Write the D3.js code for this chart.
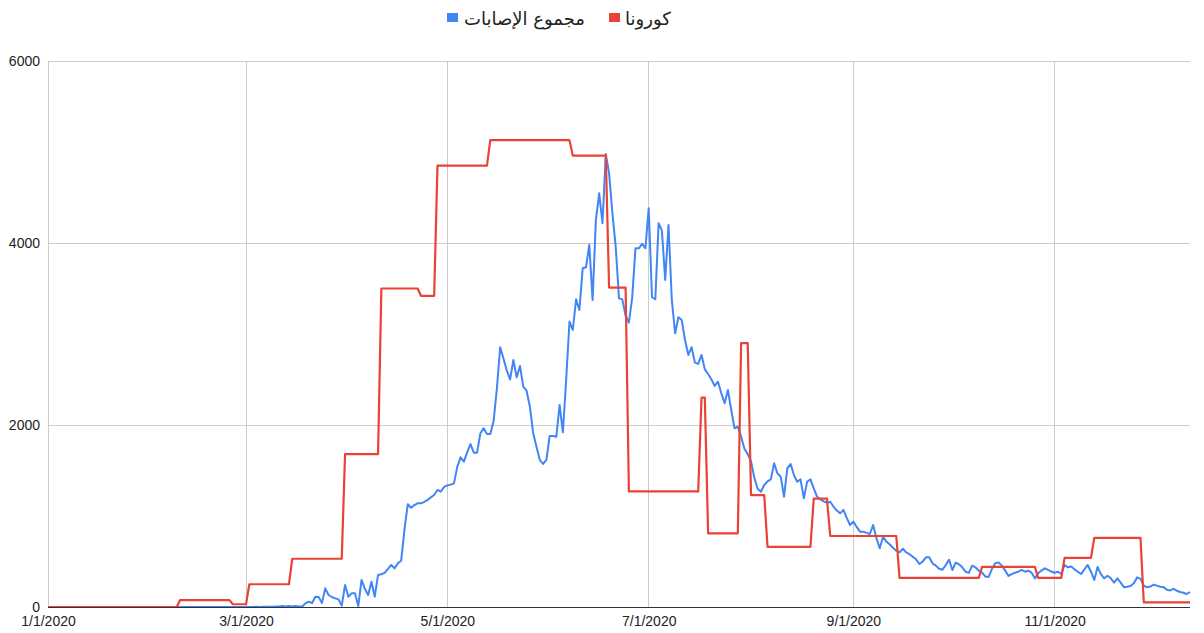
<!DOCTYPE html>
<html><head><meta charset="utf-8">
<script src="https://cdn.jsdelivr.net/npm/d3@7"></script>
<style>
html,body{margin:0;padding:0;background:#fff;}
svg{display:block;font-family:Arial,"Liberation Sans",sans-serif;}
</style></head>
<body><svg id="c" width="1204" height="633"></svg>
<script>
const seriesNames = ["مجموع الإصابات", "كورونا"];
const seriesColors = ["#4285F4", "#EA4335"];
const startDate = Date.UTC(2020, 0, 1);
const endDay = 346;
const yTicks = [0, 2000, 4000, 6000];
const xTickDays = [0, 60, 121, 182, 244, 305];
const xTickLabels = ["1/1/2020", "3/1/2020", "5/1/2020", "7/1/2020", "9/1/2020", "11/1/2020"];

// blue series: daily values from 1/1/2020
const blueValues = [
0,0,0,0,0,0,0,0,0,0, 0,0,0,0,0,0,0,0,0,0,
0,0,0,0,0,0,0,0,0,0, 0,0,0,0,0,0,0,0,0,0,
0,0,0,0,0,0,0,0,0,0, 0,0,0,0,0,0,0,0,0,0,
0,1,0,2,1,3,2,4,3,5,
5,10,5,10,5,10,5,5,40,58,
44,113,110,44,205,132,110,95,84,15,
242,113,150,150,10,297,200,132,278,113,
352,360,375,420,462,425,480,509,850,1130,
1090,1120,1139,1139,1155,1176,1205,1231,1286,1267,
1320,1335,1345,1359,1540,1645,1597,1700,1791,1696,
1696,1909,1964,1901,1900,2040,2400,2854,2730,2600,
2500,2715,2524,2649,2421,2377,2201,1909,1762,1616,
1572,1616,1879,1879,1870,2220,1920,2500,3136,3044,
3382,3264,3722,3733,3980,3374,4253,4546,4217,4978,
4766,4327,3960,3392,3380,3200,3125,3400,3942,3942,
3990,3942,4382,3404,3382,4217,4136,3594,4198,3374,
3008,3184,3154,2934,2770,2854,2685,2671,2770,2612,
2560,2500,2429,2476,2348,2239,2385,2165,1964,1982,
1870,1740,1680,1600,1420,1300,1267,1341,1380,1403,
1579,1469,1432,1212,1524,1572,1451,1377,1403,1194,
1377,1403,1304,1212,1183,1160,1146,1157,1102,1060,
1029,1066,980,901,938,880,828,828,815,802,
901,755,645,773,718,690,650,619,600,640,
600,580,553,524,473,498,546,546,480,455,
420,410,460,520,407,487,470,436,388,375,
455,436,399,377,335,330,420,480,490,455,
400,341,362,377,388,407,388,399,377,315,
370,400,425,407,388,377,388,362,462,436,
444,414,388,362,414,462,388,297,440,362,
315,344,315,267,315,267,216,222,230,260,
326,310,235,216,225,245,235,222,218,190,
182,200,179,165,157,143,165
];

// red series: [day offset from 1/1/2020, value] at each change
const redPoints = [
[0,0],[39,0],[40,75],[55,75],[56,30],[60,30],[61,250],[73,250],[74,530],[89,530],
[90,1680],[100,1680],[101,3500],[112,3500],[113,3420],[117,3420],[118,4850],[133,4850],
[134,5130],[158,5130],[159,4960],[169,4960],[170,3510],[175,3510],[176,1270],[197,1270],
[198,2300],[199,2300],[200,810],[209,810],[210,2900],[212,2900],[213,1230],[217,1230],
[218,660],[231,660],[232,1190],[236,1190],[237,780],[257,780],[258,320],[282,320],
[283,440],[299,440],[300,320],[307,320],[308,540],[316,540],[317,760],[331,760],
[332,50],[346,50]
];

const DAY = 86400000;
const toDate = d => new Date(startDate + d * DAY);

const svg = d3.select("#c");
const L = 48, R = 1190, T = 61, B = 607;
const x = d3.scaleUtc().domain([toDate(0), toDate(endDay)]).range([L, R]);
const y = d3.scaleLinear().domain([0, 6000]).range([B, T]);

// horizontal gridlines
svg.append("g").selectAll("line").data(yTicks.filter(v => v > 0)).join("line")
  .attr("x1", L).attr("x2", R).attr("y1", d => y(d)).attr("y2", d => y(d))
  .attr("stroke", "#cccccc").attr("stroke-width", 1).attr("shape-rendering", "crispEdges");
// vertical gridlines
svg.append("g").selectAll("line").data(xTickDays).join("line")
  .attr("x1", d => x(toDate(d))).attr("x2", d => x(toDate(d))).attr("y1", T).attr("y2", B)
  .attr("stroke", "#cccccc").attr("stroke-width", 1).attr("shape-rendering", "crispEdges");

// y labels
const yAxis = d3.axisLeft(y).tickValues(yTicks).tickSize(0).tickPadding(8).tickFormat(d3.format("d"));
const gy = svg.append("g").attr("transform", `translate(${L},0)`).call(yAxis);
gy.select(".domain").remove();
gy.selectAll("text").attr("font-size", 14).attr("fill", "#222").attr("font-family", "Arial, 'Liberation Sans', sans-serif");

// x labels
const xAxis = d3.axisBottom(x).tickValues(xTickDays.map(toDate)).tickSize(0).tickPadding(9)
  .tickFormat((d, i) => xTickLabels[i]);
const gx = svg.append("g").attr("transform", `translate(0,${B})`).call(xAxis);
gx.select(".domain").remove();
gx.selectAll("text").attr("font-size", 14).attr("fill", "#222").attr("font-family", "Arial, 'Liberation Sans', sans-serif");

// lines
const line = d3.line().x(d => x(toDate(d[0]))).y(d => y(d[1]));
const blueData = blueValues.map((v, i) => [i, v]);
svg.append("path").datum(blueData).attr("d", line)
  .attr("fill", "none").attr("stroke", seriesColors[0]).attr("stroke-width", 2).attr("stroke-linejoin", "round");
svg.append("path").datum(redPoints).attr("d", line)
  .attr("fill", "none").attr("stroke", seriesColors[1]).attr("stroke-width", 2.2).attr("stroke-linejoin", "round");

// baseline
svg.append("line").attr("x1", L).attr("x2", R).attr("y1", y(0)).attr("y2", y(0))
  .attr("stroke", "#333").attr("stroke-width", 1).attr("shape-rendering", "crispEdges");

// legend
const legendItems = [{name: seriesNames[0], color: seriesColors[0], sx: 447, tx: 464},
                     {name: seriesNames[1], color: seriesColors[1], sx: 609, tx: 625}];
const lg = svg.append("g");
legendItems.forEach(it => {
  lg.append("rect").attr("x", it.sx).attr("y", 13).attr("width", 11).attr("height", 9).attr("fill", it.color);
  lg.append("text").attr("x", it.tx).attr("y", 25).attr("font-size", 18).attr("fill", "#222")
    .attr("font-family", "'DejaVu Sans', 'Noto Sans', Arial, sans-serif").text(it.name);
});
</script></body></html>
